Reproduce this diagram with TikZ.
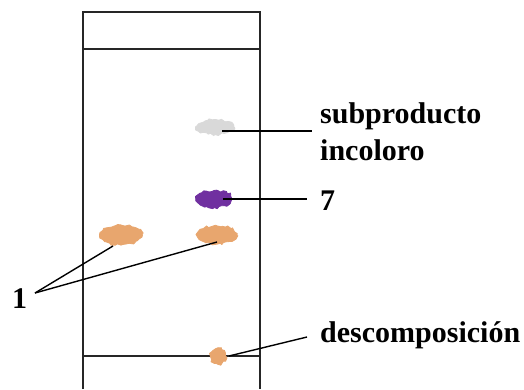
\documentclass[tikz,border=0pt]{standalone}
\usepackage{fontspec}
\setmainfont{Liberation Serif}
\usetikzlibrary{shapes.geometric,decorations.pathmorphing}
\definecolor{spotorange}{HTML}{E8A66E}
\definecolor{spotpurple}{HTML}{7030A0}
\definecolor{spotgray}{HTML}{D9D9D9}
\begin{document}
\begin{tikzpicture}[x=1pt,y=-1pt,
  plate/.style={line width=1.8pt,draw=black!85},
  lead/.style={line width=1.4pt,black},
  spot/.style={ellipse,inner sep=0pt,draw=#1,fill=#1,line width=0.8pt,
    decorate,decoration={random steps,segment length=2.5pt,amplitude=1.2pt}},
  lbl/.style={anchor=base west,inner sep=0pt,font=\fontsize{30}{37}\selectfont\bfseries,align=left}]
\useasboundingbox (0,0) rectangle (524,389);
\pgfmathsetseed{7}
% TLC plate: outline, solvent front and baseline
\draw[plate] (83,389) -- (83,12) -- (260,12) -- (260,389);
\draw[plate] (83,49) -- (260,49);
\draw[plate,line width=1.5pt] (83,356) -- (260,356);
% spots
\node[spot=spotgray,minimum width=38pt,minimum height=15pt] (sg) at (215,127) {};
\node[spot=spotpurple,minimum width=36pt,minimum height=17pt] (sp) at (214,199) {};
\node[spot=spotorange,minimum width=42pt,minimum height=20pt] (so1) at (121,235) {};
\node[spot=spotorange,minimum width=40pt,minimum height=18pt] (so2) at (217,235) {};
\node[spot=spotorange,minimum width=15pt,minimum height=16pt] (sd) at (218,356) {};
% labels
\node[lbl] (tsub) at (320,160) {subproducto\\incoloro};
\node[lbl] (t7) at (320,210) {7};
\node[lbl] (t1) at (12,308) {1};
\node[lbl] (tdes) at (320,342) {descomposici\'on};
% leader line anchor points
\coordinate (gs) at (222,131);
\coordinate (ge) at (312,131);
\coordinate (ps) at (223,199);
\coordinate (pe) at (307,199);
\coordinate (oa) at (35,293);
\coordinate (o1) at (113,246);
\coordinate (o2) at (217,242);
\coordinate (ds) at (229,356);
\coordinate (de) at (307,337);
% leader lines
\draw[lead] (gs) -- (ge);
\draw[lead] (ps) -- (pe);
\draw[lead] (oa) -- (o1);
\draw[lead] (oa) -- (o2);
\draw[lead] (ds) -- (de);
\end{tikzpicture}
\end{document}
